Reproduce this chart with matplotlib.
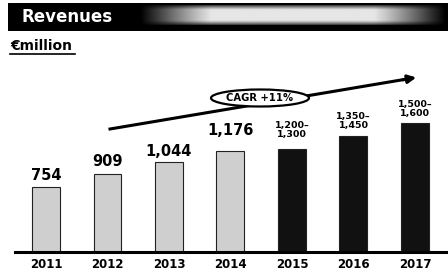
import numpy as np
import matplotlib
matplotlib.use("Agg")
import matplotlib.pyplot as plt
from matplotlib.patches import Rectangle, Ellipse

years = ["2011", "2012", "2013", "2014", "2015", "2016", "2017"]
bar_values = [754, 909, 1044, 1176, 1200, 1350, 1500]
value_labels = ["754", "909", "1,044", "1,176", "1,200–\n1,300", "1,350–\n1,450", "1,500–\n1,600"]
is_forecast = [False, False, False, False, True, True, True]
title = "Revenues"
unit = "€million"
cagr = "CAGR +11%"

W, H = 448, 273
fig = plt.figure(figsize=(W / 100, H / 100), dpi=100)
plt.rcParams['font.family'] = ['DejaVu Sans']

def fx(x):
    return x / W

def fy(y):
    return 1 - y / H

# header bar with a lighter smear on the right
hdr = fig.add_axes([fx(8), fy(31), fx(440), (31 - 3) / H])
hdr.set_xlim(0, 1)
hdr.set_ylim(0, 1)
hdr.axis('off')
hdr.add_patch(Rectangle((0, 0), 1, 1, color='black', zorder=0))
gx = np.linspace(0, 1, 200)
gy = np.linspace(-1, 1, 20)[:, None]
smear = np.clip(np.sin(np.pi * gx) * 1.5, 0, 1) * np.clip(1.3 - gy ** 2, 0, 1) * 0.9
hdr.imshow(smear, extent=[0.3, 0.995, 0.2, 0.9], aspect='auto',
           cmap='gray', vmin=0, vmax=1, zorder=1)
hdr.text(0.03, 0.5, title, color='white', fontsize=12, fontweight='bold',
         va='center', ha='left', zorder=3)

fig.text(fx(10), fy(46), unit, fontsize=10, fontweight='bold', va='center', ha='left')
fig.add_artist(plt.Line2D([fx(10), fx(75)], [fy(54), fy(54)], color='black', lw=1.2))

# bars
ax = fig.add_axes([fx(15), fy(252), fx(433), (252 - 60) / H])
x = np.arange(len(years))
colors = ['#111111' if f else '#cfcfcf' for f in is_forecast]
ax.bar(x, bar_values, width=0.455, color=colors, edgecolor='#222222', linewidth=0.8, zorder=2)
ax.set_xlim(-0.504, 6.537)
ax.set_ylim(0, 192 / 0.0862)
for s in ['top', 'right', 'left']:
    ax.spines[s].set_visible(False)
ax.spines['bottom'].set_linewidth(2.2)
ax.set_yticks([])
ax.set_xticks(x)
ax.set_xticklabels(years, fontsize=8.5, fontweight='bold')
ax.tick_params(axis='x', length=0, pad=4)

offsets = [4, 5, 3, 13, 10, 6, 5]
for xi, v, lab, f, off in zip(x, bar_values, value_labels, is_forecast, offsets):
    ax.annotate(lab, (xi, v), xytext=(0, off * 0.72), textcoords='offset points',
                ha='center', va='bottom', fontsize=6.8 if f else 10.5,
                fontweight='bold', linespacing=1.0)

# CAGR arrow
fig.add_artist(plt.Line2D([fx(110), fx(410)], [fy(129), fy(78.5)], color='black', lw=2.2,
                          zorder=2))
ax.annotate('', xy=(fx(419), fy(77)), xytext=(fx(400), fy(80.3)),
            xycoords='figure fraction', textcoords='figure fraction',
            arrowprops=dict(arrowstyle='-|>', color='black', lw=2.2, mutation_scale=12))
fig.add_artist(Ellipse((fx(260), fy(98)), fx(98), 17 / H, facecolor='white',
                       edgecolor='black', lw=1.6, transform=fig.transFigure, zorder=4))
fig.text(fx(260), fy(98), cagr, fontsize=7.2, fontweight='bold', ha='center', va='center',
         zorder=5)

fig.savefig("out.png", dpi=100)
